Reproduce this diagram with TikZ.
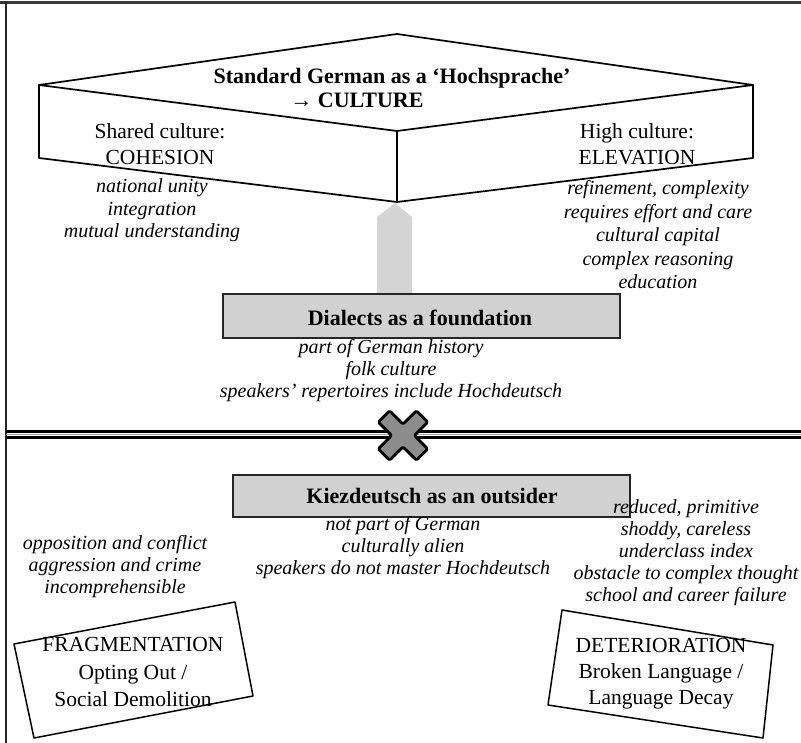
\documentclass[tikz,border=0pt]{standalone}
\usepackage{fontspec}
\setmainfont{Liberation Serif}
\definecolor{boxfill}{gray}{0.82}
\definecolor{arrowfill}{gray}{0.83}
\definecolor{xfill}{gray}{0.55}
\begin{document}
\begin{tikzpicture}[x=1pt,y=-1pt,
  prism/.style={draw=black, line width=1.7, line join=round, line cap=round},
  bx/.style={draw=black!85, line width=1.7, fill=boxfill, inner sep=0pt},
  tbold/.style={font=\fontsize{22}{24}\selectfont\bfseries, inner sep=0pt},
  treg/.style={font=\fontsize{21.5}{26}\selectfont, align=center, inner sep=0pt},
  tital/.style={font=\fontsize{20}{22.5}\selectfont\itshape, align=center, inner sep=0pt},
  frame/.style={draw=black!85, line width=2},
  sep/.style={draw=black, line width=2.2},
  tilted/.style={draw=black, line width=1.5, fill=none, line join=round}
]
\useasboundingbox (0,0) rectangle (801,743);
\fill[white] (0,0) rectangle (801,743);

% frame
\draw[frame, line width=3, draw=black!78] (0,3) -- (801,3);
\draw[frame] (6,1.5) -- (6,743);

% prism (3-D box)
\coordinate (Pt) at (397,34);
\coordinate (Pl) at (39,85);
\coordinate (Pr) at (753,85);
\coordinate (Pf) at (397,131);
\coordinate (Pbl) at (39,158);
\coordinate (Pbr) at (753,158);
\coordinate (Pb) at (397,202);
\draw[prism] (Pl) -- (Pt) -- (Pr) -- (Pf) -- cycle;
\draw[prism] (Pl) -- (Pbl) -- (Pb) -- (Pbr) -- (Pr);
\draw[prism] (Pf) -- (Pb);

\node[tbold] (title1) at (392,78) {Standard German as a ‘Hochsprache’};
\node[tbold] (title2) at (357,100) {→ CULTURE};

\node[treg] (shared) at (160,144) {Shared culture:\\COHESION};
\node[treg] (high) at (637,144) {High culture:\\ELEVATION};
\node[tital] (leftlist) at (152,210.5) {national unity\\integration\\mutual understanding};
\node[tital, font=\fontsize{20}{23.5}\selectfont\itshape] (rightlist) at (658,235)
  {refinement, complexity\\requires effort and care\\cultural capital\\complex reasoning\\education};

% dialects box and arrow
\node[bx, minimum width=395, minimum height=42] (dial) at (421.5,316) {};
\fill[arrowfill] (377,295) -- (377,217) -- (395,203) -- (412,217) -- (412,295) -- cycle;
\draw[bx] (dial.south west) rectangle (dial.north east);
\node[tbold] (dialtext) at (420,318) {Dialects as a foundation};
\node[tital, font=\fontsize{20}{22}\selectfont\itshape] (diallist) at (391,371)
  {part of German history\\folk culture\\speakers’ repertoires include Hochdeutsch};

% separator
\draw[sep] (6,431.5) -- (801,431.5);
\draw[sep] (6,437.5) -- (801,437.5);
\draw[draw=gray!70, line width=1] (6,434.5) -- (801,434.5);
\draw[draw=black, line width=2.8, fill=xfill, line join=round, rounded corners=1.5,
      shift={(403,435.5)}, rotate=45]
  (8,27) -- (-8,27) -- (-8,8) -- (-27,8) -- (-27,-8) -- (-8,-8) --
  (-8,-27) -- (8,-27) -- (8,-8) -- (27,-8) -- (27,8) -- (8,8) -- cycle;

% Kiezdeutsch box
\node[bx, minimum width=397, minimum height=42] (kiez) at (431.5,496) {};
\node[tbold] (kieztext) at (432,496) {Kiezdeutsch as an outsider};
\node[tital, font=\fontsize{20}{22}\selectfont\itshape] (kiezlist) at (403,548)
  {not part of German\\culturally alien\\speakers do not master Hochdeutsch};
\node[tital, font=\fontsize{20}{22}\selectfont\itshape] (fraglist) at (115,567)
  {opposition and conflict\\aggression and crime\\incomprehensible};
\node[tital, font=\fontsize{20}{22}\selectfont\itshape] (detlist) at (686,553)
  {reduced, primitive\\shoddy, careless\\underclass index\\obstacle to complex thought\\school and career failure};

% tilted boxes
\coordinate (F1) at (14,644);
\coordinate (F2) at (235,602);
\coordinate (F3) at (253,696);
\coordinate (F4) at (34,738);
\draw[tilted] (F1) -- (F2) -- (F3) -- (F4) -- cycle;
\node[treg, font=\fontsize{21.5}{27.5}\selectfont] (fragtext) at (133,672)
  {FRAGMENTATION\\Opting Out /\\Social Demolition};

\coordinate (D1) at (562,610);
\coordinate (D2) at (773,645);
\coordinate (D3) at (763,738);
\coordinate (D4) at (548,705);
\draw[tilted] (D1) -- (D2) -- (D3) -- (D4) -- cycle;
\node[treg, font=\fontsize{21.5}{26}\selectfont] (dettext) at (661,674)
  {DETERIORATION\\Broken Language /\\Language Decay};
\end{tikzpicture}
\end{document}
